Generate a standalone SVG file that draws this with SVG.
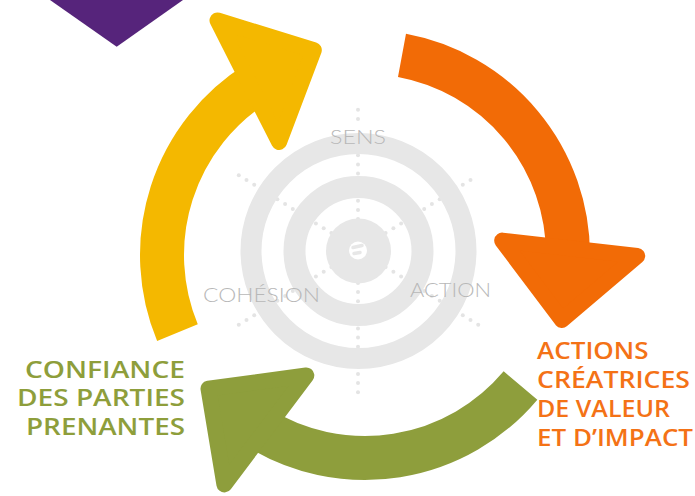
<svg xmlns="http://www.w3.org/2000/svg" width="695" height="496" viewBox="0 0 695 496">
<style>
.ring{fill:none;stroke:#e7e7e7}
.dot{fill:#e4e4e4}
.body{fill:none;stroke-width:44}
.head{stroke-width:16;stroke-linejoin:round}
.lbl{font-family:Lato,'Open Sans','Liberation Sans',sans-serif;font-weight:300;font-size:20px;fill:#b8b8b8}
.big{font-family:'Open Sans','Liberation Sans',sans-serif;font-weight:600;font-size:22.5px}
.green{fill:#8E9E3B}
.orange{fill:#F47216}
</style>
<rect width="695" height="496" fill="#ffffff"/>
<g id="corner">
<polygon points="50,0 183,0 116.7,46.7" fill="#56247B"/>
</g>
<g id="target">
<g class="dot">
<circle cx="358" cy="219" r="2"/><circle cx="358" cy="209.9" r="2"/><circle cx="358" cy="200.8" r="2"/><circle cx="358" cy="173.5" r="2"/><circle cx="358" cy="164.4" r="2"/><circle cx="358" cy="155.3" r="2"/><circle cx="358" cy="118.9" r="2"/><circle cx="358" cy="109.8" r="2"/>
<circle cx="358" cy="283" r="2"/><circle cx="358" cy="292.1" r="2"/><circle cx="358" cy="301.2" r="2"/><circle cx="358" cy="328.5" r="2"/><circle cx="358" cy="337.6" r="2"/><circle cx="358" cy="346.7" r="2"/><circle cx="358" cy="374" r="2"/><circle cx="358" cy="383.1" r="2"/><circle cx="358" cy="392.2" r="2"/>
<circle cx="385.6" cy="233" r="2"/><circle cx="393.4" cy="228.2" r="2"/><circle cx="401.1" cy="223.4" r="2"/><circle cx="424.2" cy="208.9" r="2"/><circle cx="431.9" cy="204.1" r="2"/><circle cx="439.7" cy="199.3" r="2"/><circle cx="462.8" cy="184.8" r="2"/><circle cx="470.5" cy="180" r="2"/>
<circle cx="385.6" cy="267" r="2"/><circle cx="393.4" cy="271.8" r="2"/><circle cx="401.1" cy="276.6" r="2"/><circle cx="424.2" cy="291.1" r="2"/><circle cx="431.9" cy="295.9" r="2"/><circle cx="439.7" cy="300.7" r="2"/><circle cx="462.8" cy="315.2" r="2"/><circle cx="470.5" cy="320" r="2"/><circle cx="478.2" cy="324.8" r="2"/>
<circle cx="331.4" cy="267" r="2"/><circle cx="323.7" cy="271.8" r="2"/><circle cx="315.9" cy="276.6" r="2"/><circle cx="292.8" cy="291.1" r="2"/><circle cx="285.1" cy="295.9" r="2"/><circle cx="277.4" cy="300.7" r="2"/><circle cx="254.2" cy="315.2" r="2"/><circle cx="246.5" cy="320" r="2"/><circle cx="238.8" cy="324.8" r="2"/>
<circle cx="331.4" cy="233" r="2"/><circle cx="323.7" cy="228.2" r="2"/><circle cx="315.9" cy="223.4" r="2"/><circle cx="292.8" cy="208.9" r="2"/><circle cx="285.1" cy="204.1" r="2"/><circle cx="277.4" cy="199.3" r="2"/><circle cx="254.2" cy="184.8" r="2"/><circle cx="246.5" cy="180" r="2"/><circle cx="238.8" cy="175.2" r="2"/>
</g>
<circle class="ring" cx="358.5" cy="251" r="107.5" stroke-width="21"/>
<circle class="ring" cx="358.5" cy="251" r="64" stroke-width="22"/>
<circle cx="358.5" cy="251" r="32.5" fill="#e7e7e7"/>
<circle cx="358" cy="250.5" r="9" fill="#ffffff"/>
<line x1="353" y1="247.5" x2="362" y2="245.5" stroke="#e7e7e7" stroke-width="3.5" stroke-linecap="round"/>
<line x1="354" y1="253.5" x2="360" y2="252.5" stroke="#e7e7e7" stroke-width="3.5" stroke-linecap="round"/>
</g>
<g id="connectors">
<g id="arrow-yellow">
<path class="body" d="M177.45,332.69 A203,203 0 0 1 257.43,82.85" stroke="#F4B800"/>
<polygon class="head" points="217.5,20.5 313.8,50.1 279.1,142" fill="#F4B800" stroke="#F4B800"/>
</g>
<g id="arrow-orange">
<path class="body" d="M401.99,55.4 A203,203 0 0 1 568,255" stroke="#F26B06"/>
<polygon class="head" points="502.2,240.6 637.2,255.9 561.9,320" fill="#F26B06" stroke="#F26B06"/>
</g>
<g id="arrow-green">
<path class="body" d="M520.5,385.5 A203,203 0 0 1 257.43,427.15" stroke="#8E9E3C"/>
<polygon class="head" points="208.5,388.7 306.3,375.4 224.4,484.4" fill="#8E9E3C" stroke="#8E9E3C"/>
</g>
</g>
<g id="label-sens"><text class="lbl" x="330" y="144" textLength="56" lengthAdjust="spacingAndGlyphs">SENS</text></g>
<g id="label-cohesion"><text class="lbl" x="203" y="302" textLength="117" lengthAdjust="spacingAndGlyphs">COHÉSION</text></g>
<g id="label-action"><text class="lbl" x="410" y="297" textLength="81" lengthAdjust="spacingAndGlyphs">ACTION</text></g>
<g id="node-confiance" class="big green">
<text x="25" y="378" textLength="160" lengthAdjust="spacingAndGlyphs">CONFIANCE</text>
<text x="17" y="406" textLength="168" lengthAdjust="spacingAndGlyphs">DES PARTIES</text>
<text x="26" y="434.5" textLength="159" lengthAdjust="spacingAndGlyphs">PRENANTES</text>
</g>
<g id="node-actions" class="big orange">
<text x="537" y="358.5" textLength="111.5" lengthAdjust="spacingAndGlyphs">ACTIONS</text>
<text x="537" y="388" textLength="153" lengthAdjust="spacingAndGlyphs">CRÉATRICES</text>
<text x="537" y="417" textLength="133" lengthAdjust="spacingAndGlyphs">DE VALEUR</text>
<text x="537" y="445.5" textLength="156" lengthAdjust="spacingAndGlyphs">ET D’IMPACT</text>
</g>
</svg>
